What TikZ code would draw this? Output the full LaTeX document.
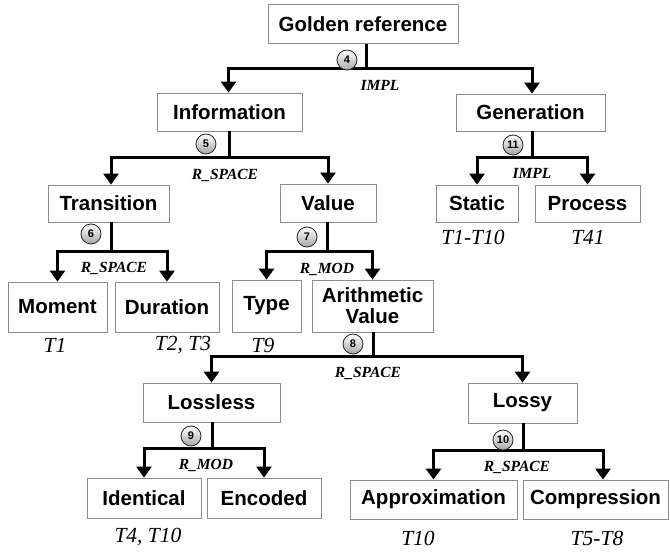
\documentclass[tikz,border=0pt]{standalone}
\usepackage{fontspec}
\setmainfont{Liberation Sans}
\newfontfamily\serifit{Liberation Serif}
\usetikzlibrary{arrows.meta}

\tikzset{
  box/.style={draw=black!45, line width=0.8pt, fill=white, inner sep=0pt,
    align=center, font=\bfseries\fontsize{20.5}{22}\selectfont},
  conn/.style={line width=3pt, black},
  arr/.style={conn, {Triangle[width=15pt,length=11pt]}-{Triangle[width=15pt,length=11pt]}},
  relname/.style={font=\serifit\bfseries\itshape\fontsize{15.5}{17}\selectfont, inner sep=0pt},
  tref/.style={font=\serifit\itshape\fontsize{21.5}{23}\selectfont, inner sep=0pt},
  stepnum/.style={circle, draw=black!85, line width=0.8pt, minimum size=20pt, inner sep=0pt,
    top color=white, bottom color=black!35, font=\bfseries\fontsize{11}{12}\selectfont},
}

\begin{document}
\begin{tikzpicture}[x=1pt, y=-1pt]
\useasboundingbox (0,0) rectangle (670,553);

% categories
\node[box, minimum width=190pt, minimum height=39pt] (golden)    at (363,24)    {Golden reference};
\node[box, minimum width=145pt, minimum height=38pt] (info)      at (229.5,112) {Information};
\node[box, minimum width=149pt, minimum height=37pt] (gen)       at (530.5,112.5) {Generation};
\node[box, minimum width=121pt, minimum height=37pt] (trans)     at (108.5,203.5) {Transition};
\node[box, minimum width=96pt,  minimum height=38pt] (value)     at (328,203)   {Value};
\node[box, minimum width=82pt,  minimum height=37pt] (static)    at (477,203.5) {Static};
\node[box, minimum width=105pt, minimum height=37pt] (process)   at (587.5,203.5) {Process};
\node[box, minimum width=99pt,  minimum height=50pt] (moment)    at (57.5,307)  {Moment};
\node[box, minimum width=104pt, minimum height=50pt] (duration)  at (167,307)   {Duration};
\node[box, minimum width=69pt,  minimum height=52pt] (type)      at (266.5,306) {Type};
\node[box, minimum width=121pt, minimum height=52pt] (arith)     at (372.5,306) {Arithmetic\\[-1pt]Value};
\node[box, minimum width=137pt, minimum height=39pt] (lossless)  at (211.5,402.5) {Lossless};
\node[box, minimum width=109pt, minimum height=40pt] (lossy)     at (522.5,403) {Lossy};
\node[box, minimum width=114pt, minimum height=40pt] (identical) at (144,498)   {Identical};
\node[box, minimum width=114pt, minimum height=40pt] (encoded)   at (264,498)   {Encoded};
\node[box, minimum width=167pt, minimum height=39pt] (approx)    at (433.5,499.5) {Approximation};
\node[box, minimum width=145pt, minimum height=39pt] (comp)      at (595.5,499.5) {Compression};

% branching points
\coordinate (j4)  at (366,69);
\coordinate (j5)  at (229,158);
\coordinate (j11) at (532,158);
\coordinate (j6)  at (111,252);
\coordinate (j7)  at (327,252);
\coordinate (j8)  at (373,357);
\coordinate (j9)  at (212,449);
\coordinate (j10) at (523,451);

% stems
\foreach \p/\j in {golden/j4, info/j5, gen/j11, trans/j6, value/j7, arith/j8, lossless/j9, lossy/j10}
  \draw[conn] (\j |- \p.south) -- (\j);

% branches
\draw[arr] ([xshift=-1pt]info.north) |- (j4) -| ([xshift=1.5pt]gen.north);
\draw[arr] ([xshift=2.5pt]trans.north) |- (j5) -| (value.north);
\draw[arr] (static.north) |- (j11) -| (process.north);
\draw[arr] (moment.north) |- (j6) -| (duration.north);
\draw[arr] (type.north) |- (j7) -| (arith.north);
\draw[arr] (lossless.north) |- (j8) -| (lossy.north);
\draw[arr] (identical.north) |- (j9) -| (encoded.north);
\draw[arr] (approx.north) |- (j10) -| ([xshift=7.5pt]comp.north);

% step numbers
\node[stepnum] (n4)  at (347,60)  {4};
\node[stepnum] (n5)  at (206,144) {5};
\node[stepnum] (n11) at (513,145) {11};
\node[stepnum] (n6)  at (91,234)  {6};
\node[stepnum] (n7)  at (307,237) {7};
\node[stepnum] (n8)  at (353,344) {8};
\node[stepnum] (n9)  at (191,436) {9};
\node[stepnum] (n10) at (503,440) {10};

% relation names
\node[relname] (r4)  at (380,85)  {IMPL};
\node[relname] (r5)  at (225,175) {R\_SPACE};
\node[relname] (r11) at (532,173) {IMPL};
\node[relname] (r6)  at (114,268) {R\_SPACE};
\node[relname] (r7)  at (327,269) {R\_MOD};
\node[relname] (r8)  at (368,373) {R\_SPACE};
\node[relname] (r9)  at (206,465) {R\_MOD};
\node[relname] (r10) at (517,467) {R\_SPACE};

% test references
\node[tref] (t1)  at (55,345)  {T1};
\node[tref] (t2)  at (183,345) {T2, T3};
\node[tref] (t9)  at (263,345) {T9};
\node[tref] (t110) at (473,237) {T1-T10};
\node[tref] (t41) at (588,237) {T41};
\node[tref] (t4)  at (148,537) {T4, T10};
\node[tref] (t10) at (418,538) {T10};
\node[tref] (t58) at (597,538) {T5-T8};
\end{tikzpicture}
\end{document}
